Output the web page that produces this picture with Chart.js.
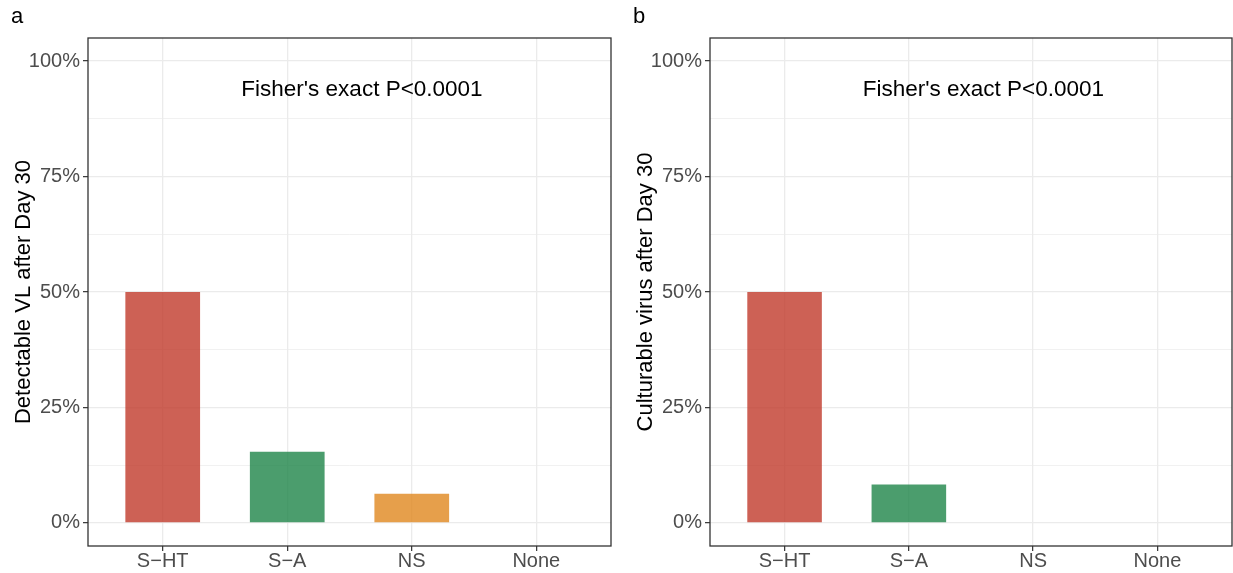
<!DOCTYPE html>
<html>
<head>
<meta charset="utf-8">
<script src="https://cdn.jsdelivr.net/npm/chart.js@4.4.0/dist/chart.umd.min.js"></script>
<style>
  body { margin: 0; background: #fff; width: 1233px; height: 573px; overflow: hidden; position: relative; }
  canvas { position: absolute; top: 0; }
  #chartA { left: 0; }
  #chartB { left: 622px; }
</style>
</head>
<body>
<canvas id="chartA" width="622" height="573"></canvas>
<canvas id="chartB" width="611" height="573"></canvas>
<script>
const categories = ['S\u2212HT', 'S\u2212A', 'NS', 'None'];
const detectableVL = [50, 15.4, 6.3, 0];
const culturableVirus = [50, 8.3, 0, 0];
const yTickValues = [0, 12.5, 25, 37.5, 50, 62.5, 75, 87.5, 100];
const barColors = ['rgba(192,57,43,0.8)', 'rgba(30,132,73,0.8)', 'rgba(224,135,30,0.8)', 'rgba(41,128,185,0.8)'];
const fisherText = "Fisher's exact P<0.0001";
const fisherAt = { x: 2.6, y: 93.7 };

const FONT = "'Liberation Sans', Arial, sans-serif";

// panel frame, tag letter and test annotation
const panelDecor = {
  id: 'panelDecor',
  afterDraw(chart, args, opts) {
    const { ctx, chartArea: a, scales } = chart;
    ctx.save();
    ctx.strokeStyle = '#333333';
    ctx.lineWidth = 1.3;
    ctx.strokeRect(a.left, a.top, a.right - a.left, a.bottom - a.top);

    ctx.fillStyle = '#000';
    ctx.font = '22.5px ' + FONT;
    ctx.textAlign = 'center';
    ctx.textBaseline = 'middle';
    ctx.fillText(fisherText, scales.x.getPixelForValue(fisherAt.x), scales.y.getPixelForValue(fisherAt.y));

    ctx.font = '22px ' + FONT;
    ctx.textAlign = 'left';
    ctx.textBaseline = 'alphabetic';
    ctx.fillText(opts.tag, 11, 23);
    ctx.restore();
  }
};

function makeChart(id, values, yTitle, tag, padRight) {
  const points = values.map((v, i) => ({ x: i + 1, y: v }));
  return new Chart(document.getElementById(id), {
    type: 'bar',
    data: {
      datasets: [{
        data: points,
        backgroundColor: barColors,
        borderWidth: 0,
        barPercentage: 0.6,
        categoryPercentage: 1
      }]
    },
    options: {
      responsive: false,
      animation: false,
      layout: { padding: { top: 38, right: padRight, bottom: 0, left: 0 } },
      plugins: {
        legend: { display: false },
        tooltip: { enabled: false },
        panelDecor: { tag: tag }
      },
      scales: {
        x: {
          type: 'linear',
          offset: false,
          min: 0.4,
          max: 4.6,
          afterBuildTicks: s => { s.ticks = categories.map((c, i) => ({ value: i + 1 })); },
          afterFit: s => { s.height = 27; },
          ticks: {
            callback: v => categories[v - 1],
            font: { family: FONT, size: 20, lineHeight: 1 },
            color: '#4D4D4D',
            padding: 0,
            maxRotation: 0,
            autoSkip: false
          },
          grid: { offset: false, color: '#EBEBEB', lineWidth: 1.3, tickLength: 5, tickColor: '#333333', tickWidth: 1.2 },
          border: { display: false }
        },
        y: {
          min: -5,
          max: 105,
          afterBuildTicks: s => { s.ticks = yTickValues.map(v => ({ value: v })); },
          afterFit: s => { s.width = 88; },
          ticks: {
            callback: v => (v % 25 === 0 ? v + '%' : ''),
            font: { family: FONT, size: 20 },
            color: '#4D4D4D',
            padding: 3,
            autoSkip: false
          },
          grid: {
            color: '#EBEBEB',
            lineWidth: c => (c.tick && c.tick.value % 25 === 0 ? 1.3 : 0.7),
            tickLength: 5,
            tickColor: c => (c.tick && c.tick.value % 25 === 0 ? '#333333' : 'rgba(0,0,0,0)'),
            tickWidth: 1.2
          },
          border: { display: false },
          title: {
            display: true,
            text: yTitle,
            color: '#000',
            font: { family: FONT, size: 22, lineHeight: 1.2 },
            padding: { top: 11, bottom: 0 }
          }
        }
      }
    },
    plugins: [panelDecor]
  });
}

makeChart('chartA', detectableVL, 'Detectable VL after Day 30', 'a', 11);
makeChart('chartB', culturableVirus, 'Culturable virus after Day 30', 'b', 1);
</script>
</body>
</html>
